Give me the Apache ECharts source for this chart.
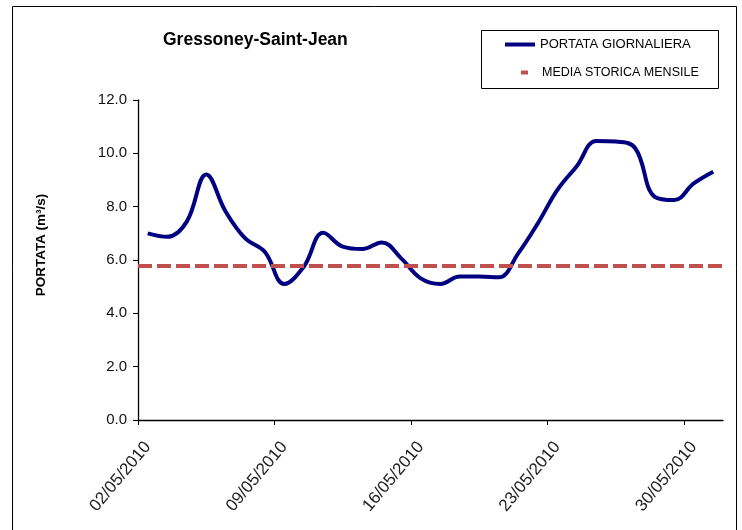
<!DOCTYPE html>
<html>
<head>
<meta charset="utf-8">
<script src="https://cdn.jsdelivr.net/npm/echarts@6/dist/echarts.min.js"></script>
<style>
html,body{margin:0;padding:0;background:#fff;}
#c{width:742px;height:530px;}
</style>
</head>
<body>
<div id="c"></div>
<script>
const TITLE = 'Gressoney-Saint-Jean';
const DATES = ['02/05/2010','03/05/2010','04/05/2010','05/05/2010','06/05/2010','07/05/2010','08/05/2010',
  '09/05/2010','10/05/2010','11/05/2010','12/05/2010','13/05/2010','14/05/2010','15/05/2010',
  '16/05/2010','17/05/2010','18/05/2010','19/05/2010','20/05/2010','21/05/2010','22/05/2010',
  '23/05/2010','24/05/2010','25/05/2010','26/05/2010','27/05/2010','28/05/2010','29/05/2010',
  '30/05/2010','31/05/2010'];
const PORTATA = [7.0, 6.87, 7.44, 9.21, 7.81, 6.81, 6.31, 5.1, 5.75, 7.02,
  6.5, 6.41, 6.66, 6.06, 5.31, 5.1, 5.38, 5.38, 5.35, 6.25,
  7.37, 8.62, 9.52, 10.46, 10.44, 10.19, 8.37, 8.25, 8.87, 9.31];
const MEDIA_MENSILE = 5.8;
const X_TICKS = [0, 7, 14, 21, 28];
const X_LABELS = [0.5, 7.5, 14.5, 21.5, 28.5];
const Y_TICKS = [0, 2, 4, 6, 8, 10, 12];
const SERIES_NAMES = ['PORTATA GIORNALIERA', 'MEDIA STORICA MENSILE'];

const SANS = "'Liberation Sans', Arial, sans-serif";

const chart = echarts.init(document.getElementById('c'), null, {renderer: 'canvas'});
chart.setOption({
  backgroundColor: '#fff',
  animation: false,
  title: {
    text: TITLE, left: 163, top: 31, padding: 0,
    textStyle: {fontFamily: SANS, fontWeight: 'bold', fontSize: 17.5, color: '#000'}
  },
  graphic: [
    {type: 'rect', shape: {x: 12.5, y: 6.5, width: 724, height: 540}, style: {fill: 'none', stroke: '#000', lineWidth: 1}},
    {type: 'rect', shape: {x: 481.5, y: 30.5, width: 237, height: 58}, style: {fill: '#fff', stroke: '#000', lineWidth: 1}, z: 1}
  ],
  legend: [
    {data: [SERIES_NAMES[0]], left: 505, top: 38, padding: 0, itemWidth: 30, itemHeight: 4, icon: 'rect',
     textStyle: {fontFamily: SANS, fontSize: 13, color: '#000'}, z: 5},
    {data: [SERIES_NAMES[1]], left: 521, top: 66, padding: 0, itemWidth: 7, itemHeight: 4, icon: 'rect',
     textStyle: {fontFamily: SANS, fontSize: 12.5, color: '#000', padding: [0, 0, 0, 9]}, z: 5}
  ],
  grid: {left: 138, right: 19, top: 100, bottom: 110, containLabel: false},
  xAxis: {
    type: 'value', min: 0, max: DATES.length, interval: 7,
    splitLine: {show: false},
    axisLine: {show: true, lineStyle: {color: '#000', width: 1.3}},
    axisTick: {show: true, length: 5, customValues: X_TICKS, lineStyle: {color: '#000'}},
    axisLabel: {
      customValues: X_LABELS, rotate: 50, margin: 24,
      fontFamily: SANS, fontSize: 17, color: '#222',
      formatter: v => DATES[Math.floor(v)] || ''
    }
  },
  yAxis: {
    type: 'value', min: Y_TICKS[0], max: Y_TICKS[Y_TICKS.length - 1], interval: 2,
    name: 'PORTATA (m³/s)', nameLocation: 'middle', nameRotate: 90, nameGap: 90,
    nameTextStyle: {fontFamily: SANS, fontWeight: 'bold', fontSize: 13.5, color: '#000', padding: [0, 0, 0, 30]},
    splitLine: {show: false},
    axisLine: {show: true, lineStyle: {color: '#000', width: 1.3}},
    axisTick: {show: true, length: 5, lineStyle: {color: '#000'}},
    axisLabel: {margin: 11, fontFamily: SANS, fontSize: 15, color: '#111', formatter: v => v.toFixed(1)}
  },
  series: [
    {
      name: SERIES_NAMES[0], type: 'line', smooth: 0.4, showSymbol: false, symbol: 'none',
      color: '#000080', lineStyle: {color: '#000080', width: 4},
      data: PORTATA.map((v, i) => [i + 0.5, v]), z: 3
    },
    {
      name: SERIES_NAMES[1], type: 'line', showSymbol: false, symbol: 'none',
      color: '#c0504d', lineStyle: {color: '#c0504d', width: 4, type: [14, 5]},
      data: [], z: 4,
      markLine: {
        silent: true, symbol: ['none', 'none'], label: {show: false},
        lineStyle: {color: '#c0504d', width: 4, type: [14, 5]},
        data: [{yAxis: MEDIA_MENSILE}]
      }
    }
  ]
});
</script>
</body>
</html>
